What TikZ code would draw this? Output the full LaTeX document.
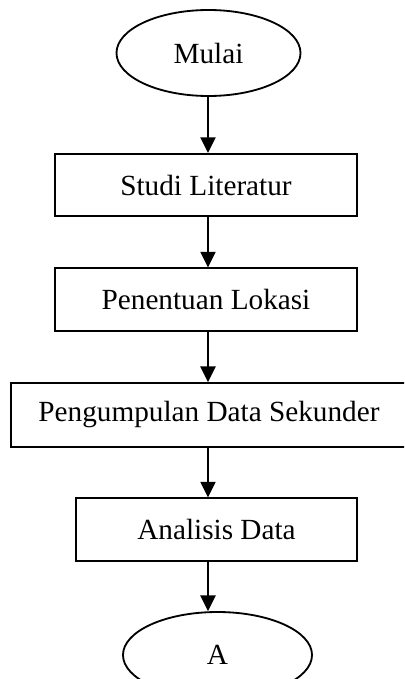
\documentclass[tikz,border=0pt]{standalone}
\usepackage{fontspec}
\setmainfont{Liberation Serif}
\usetikzlibrary{shapes.geometric,arrows.meta}

\tikzset{
    prosesbox/.style={draw, rectangle, line width=1.3pt, inner sep=0pt,
        minimum width=7.55cm, minimum height=1.56cm},
    terminal/.style={draw, ellipse, line width=1.3pt, inner sep=0pt,
        minimum width=4.6cm, minimum height=2.15cm},
    arus/.style={line width=1.3pt, -{Triangle[width=0.38cm,length=0.39cm]}}
}

\begin{document}
\begin{tikzpicture}[font=\fontsize{20.8}{25}\selectfont]
            % Page frame
            \clip (0,0) rectangle (10.1,-16.975);
            \coordinate (axis) at (5.2,0);
            % Steps of the flow
            \node[terminal] (mulai) at (5.2125,-1.325) {Mulai};
            \node[prosesbox] (studi) at (5.15,-4.625) {Studi Literatur};
            \node[prosesbox] (lokasi) at (5.15,-7.4875) {Penentuan Lokasi};
            \node[prosesbox, minimum width=9.9cm, minimum height=1.6cm] (data) at (5.225,-10.375) {Pengumpulan Data Sekunder};
            \node[prosesbox, minimum width=7.025cm] (analisis) at (5.4125,-13.2375) {Analisis Data};
            \node[terminal, minimum width=4.725cm] (a) at (5.4375,-16.375) {A};
            % Arrows
            \foreach \s/\t in {mulai/studi, studi/lokasi, lokasi/data, data/analisis, analisis/a} {
                \draw[arus] (\s.south -| axis) -- (\t.north -| axis);
            }
        \end{tikzpicture}
\end{document}
